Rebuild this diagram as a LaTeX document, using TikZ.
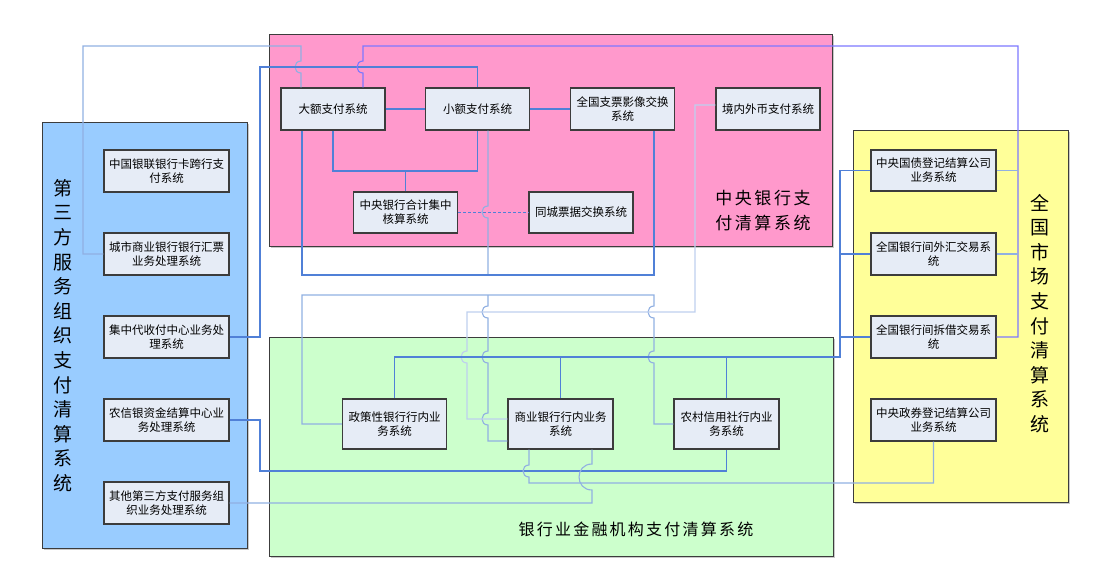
\documentclass[tikz,border=0pt]{standalone}
\usepackage{fontspec}
\setmainfont{Noto Sans CJK SC}
\newfontfamily\bigf[LetterSpace=15]{Noto Sans CJK SC}
\newfontfamily\midf[LetterSpace=14]{Noto Sans CJK SC}
\usetikzlibrary{shadows}
\definecolor{pinkf}{RGB}{255,153,204}
\definecolor{bluef}{RGB}{153,204,255}
\definecolor{greenf}{RGB}{204,255,204}
\definecolor{yellowf}{RGB}{255,255,153}
\definecolor{boxf}{RGB}{230,236,246}
\definecolor{boxd}{RGB}{60,60,60}
\definecolor{cMed}{RGB}{80,128,215}
\definecolor{cLt}{RGB}{145,176,226}
\definecolor{cVLt}{RGB}{190,208,238}
\definecolor{cViol}{RGB}{125,120,255}
\tikzset{
  container/.style={draw=boxd, line width=1pt, inner sep=0pt,
    drop shadow={shadow xshift=2pt, shadow yshift=-2pt, fill=gray!60, opacity=.7}},
  sysbox/.style={draw=boxd, line width=1.1pt, fill=boxf, inner sep=0pt, align=center,
    font=\fontsize{11.5}{14}\selectfont},
  bbox/.style={sysbox, minimum width=125pt, minimum height=42pt},
  pbox/.style={sysbox, minimum width=104pt, minimum height=42pt},
  ybox/.style={sysbox, minimum width=125pt, minimum height=41pt},
  gbox/.style={sysbox, minimum width=104pt, minimum height=50pt},
  conn/.style={line width=1.1pt},
  vjd/.style args={#1,#2,#3}{insert path={-- (#1,#2-#3) .. controls (#1-1.33*#3,#2-#3) and (#1-1.33*#3,#2+#3) .. (#1,#2+#3)}},
  vju/.style args={#1,#2,#3}{insert path={-- (#1,#2+#3) .. controls (#1-1.33*#3,#2+#3) and (#1-1.33*#3,#2-#3) .. (#1,#2-#3)}},
  vlabel/.style={align=center, inner sep=0pt, font=\fontsize{19}{24.6}\selectfont}
}
\begin{document}
\begin{tikzpicture}[x=1pt,y=-1pt]
\useasboundingbox (0,0) rectangle (1104,582);
% containers
\node[container, fill=pinkf, minimum width=563pt, minimum height=212pt] (pink) at (550.5,140) {};
\node[container, fill=bluef, minimum width=205pt, minimum height=426pt] (blue) at (144.5,335) {};
\node[container, fill=greenf, minimum width=564pt, minimum height=219pt] (green) at (551,446.5) {};
\node[container, fill=yellowf, minimum width=215pt, minimum height=372pt] (yellow) at (960.5,316) {};

% container labels
\node[align=center, inner sep=0pt, font=\bigf\fontsize{17}{25}\selectfont] (lpink) at (763,211) {中央银行支\\付清算系统};
\node[inner sep=0pt, font=\midf\fontsize{16}{20}\selectfont] (lgreen) at (636,529) {银行业金融机构支付清算系统};
\node[vlabel] (lblue) at (63,335.5) {第\\三\\方\\服\\务\\组\\织\\支\\付\\清\\算\\系\\统};
\node[vlabel] (lyellow) at (1040,313.5) {全\\国\\市\\场\\支\\付\\清\\算\\系\\统};

% boxes: blue
\node[bbox] (yl) at (166.5,171) {中国银联银行卡跨行支\\付系统};
\node[bbox] (cs) at (166.5,254) {城市商业银行银行汇票\\业务处理系统};
\node[bbox] (jz) at (166.5,337) {集中代收付中心业务处\\理系统};
\node[bbox] (nxy) at (166.5,420) {农信银资金结算中心业\\务处理系统};
\node[bbox] (qt) at (166.5,503) {其他第三方支付服务组\\织业务处理系统};
% pink
\node[pbox] (dae) at (333,109) {大额支付系统};
\node[pbox] (xiao) at (477.5,109) {小额支付系统};
\node[pbox] (qgzp) at (622.5,109) {全国支票影像交换\\系统};
\node[pbox] (jnwb) at (768,109) {境内外币支付系统};
\node[pbox, minimum height=41pt] (zyhj) at (405.5,212.5) {中央银行合计集中\\核算系统};
\node[pbox, minimum height=41pt] (tc) at (581,212.5) {同城票据交换系统};
% yellow
\node[ybox] (gz) at (933.5,170.5) {中央国债登记结算公司\\业务系统};
\node[ybox, minimum height=42pt] (wh) at (933.5,254) {全国银行间外汇交易系\\统};
\node[ybox, minimum height=42pt] (cj) at (933.5,337) {全国银行间拆借交易系\\统};
\node[ybox, minimum height=42pt] (zq) at (933.5,420) {中央政券登记结算公司\\业务系统};
% green
\node[gbox] (zc) at (394.5,424) {政策性银行行内业\\务系统};
\node[gbox, minimum width=105pt] (sy) at (560.5,424) {商业银行行内业务\\系统};
\node[gbox, minimum width=105pt] (nc) at (726.5,424) {农村信用社行内业\\务系统};

% connectors
\coordinate (j1) at (488,275);
\coordinate (j2) at (488,295);
\begin{scope}[conn]
% 1 城市商业 -> 大额
\draw[cLt] (cs.west) -- (83,254) -- (83,46) -- (301,46) [vjd={301,67,6}] -- ([xshift=-32pt]dae.north);
% 2 集中代收付 -> 小额
\draw[cMed] (jz.east) -- (260,337) -- (260,67) -| (xiao.north);
% 3 大额 -> 全国市场 (violet trunk)
\draw[cViol] ([xshift=30pt]dae.north) [vju={363,67,6}] -- (363,46) -- (1018,46) -- (1018,337) -- (cj.east);
\draw[cLt] (gz.east) -- (1018,170.5);
\draw[cLt] (wh.east) -- (1018,254);
% 4,5
\draw[cMed] (dae.east) -- (xiao.west);
\draw[cMed] (xiao.east) -- (qgzp.west);
% 6
\draw[cMed] (dae.south) -- (333,171) -| (xiao.south);
\draw[cMed] (zyhj.north) -- ([yshift=21pt]zyhj.north);
% 7 dashed
\draw[cMed, dash pattern=on 3pt off 2pt] (zyhj.east) -- (tc.west);
% 8 小额 down
\draw[cLt] ([xshift=10.5pt]xiao.south) [vjd={488,212,6}] -- (j1);
\draw[cLt] (j2) [vjd={488,312,6}] [vjd={488,357,6}] [vjd={488,419,6}] -- (488,441) -- ([yshift=-17pt]sy.west);
% 9 大额 -> 全国支票
\draw[cMed] ([xshift=-31pt]dae.south) -- (302,275) -| ([xshift=31.5pt]qgzp.south);
% 10 政策性 -> 农村 via y295
\draw[cLt] (zc.west) -- (302,424) -- (302,295) -- (654,295) [vjd={654,312,6}] [vjd={654,357,6}] -- (654,424) -- (nc.west);
% 11 境内外币 -> 商业
\draw[cVLt] ([yshift=4pt]jnwb.west) -- (695,105) -- (695,312) -- (467,312) [vjd={467,357,6}] -- (467,419) -- ([yshift=5pt]sy.west);
% 12 green tops -> yellow lefts
\draw[cMed] (zc.north) |- (840,357) |- (gz.west);
\draw[cMed] (sy.north) -- (560.5,357);
\draw[cMed] (nc.north) -- (726.5,357);
\draw[cMed] (wh.west) -- (840,254);
\draw[cMed] (cj.west) -- (840,337);
% 13 农信银 -> 农村
\draw[cMed] (nxy.east) -- (260,420) -- (260,471) -| (nc.south);
% 14 商业 -> 中央政券
\draw[cLt] ([xshift=-31.5pt]sy.south) [vjd={529,471,6}] -- (529,483) -| (zq.south);
% 15 其他 -> 商业
\draw[cLt] (qt.east) -- (592,503) [vju={592,477,13}] -- ([xshift=31.5pt]sy.south);
\end{scope}
\end{tikzpicture}
\end{document}
